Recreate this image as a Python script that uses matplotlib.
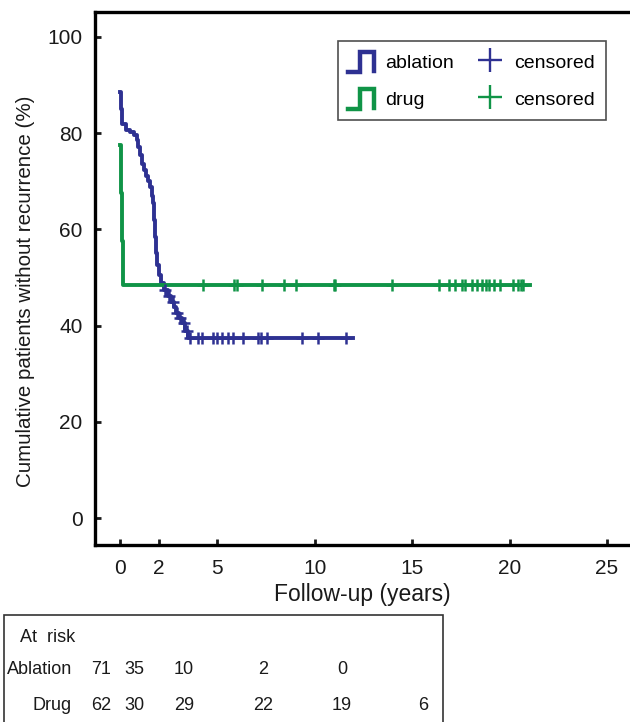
import numpy as np
import matplotlib
matplotlib.use("Agg")
import matplotlib.pyplot as plt
from matplotlib.lines import Line2D
from matplotlib.legend_handler import HandlerBase
from matplotlib.patches import Rectangle

plt.rcParams['font.family'] = ['Liberation Sans', 'DejaVu Sans']

# Kaplan-Meier step data (years, % without recurrence)
ablation_t = [0, 0.05, 0.1, 0.3, 0.5, 0.7, 0.85, 0.95, 1.05, 1.15, 1.25, 1.35, 1.45,
              1.55, 1.65, 1.72, 1.76, 1.8, 1.85, 1.9, 2.0, 2.1, 2.25, 2.45, 2.6, 2.75,
              2.9, 3.05, 3.2, 3.35, 3.5, 11.98]
ablation_s = [88.6, 85, 82, 80.7, 80.3, 79.6, 78.5, 77.2, 75.5, 73.7, 72.3, 71, 70,
              68.9, 67, 65.4, 62, 58.5, 55, 52.5, 50.5, 48.8, 47.5, 46.2, 45, 43.8,
              42.6, 41.5, 40.5, 38.8, 37.4, 37.4]
ablation_cens = [2.3, 2.5, 2.7, 2.95, 3.1, 3.3, 3.42, 3.59, 4.02, 4.19, 4.79, 4.96, 5.22,
                 5.56, 5.82, 6.3, 7.1, 7.24, 7.56, 9.33, 10.18, 11.59]

drug_t = [0, 0.03, 0.06, 0.09, 0.12, 0.15, 0.17, 21.05]
drug_s = [77.5, 72.5, 67.5, 62.5, 57.5, 52.5, 48.4, 48.4]
drug_cens = [4.28, 5.85, 5.99, 7.27, 8.44, 9.02, 10.99, 11.04, 13.95, 16.39, 16.9, 17.2,
             17.54, 17.71, 18.05, 18.34, 18.56, 18.79, 18.96, 19.21, 19.51, 20.19,
             20.45, 20.57, 20.70]

# numbers at risk
risk_labels = ["Ablation", "Drug"]
ablation_risk = [71, 35, 10, 2, 0]
drug_risk = [62, 30, 29, 22, 19, 6]

blue = "#2e3192"
green = "#109447"


def step_value(t, s, x):
    idx = np.searchsorted(t, x, side="right") - 1
    return np.array(s)[idx]


class StepHandler(HandlerBase):
    def create_artists(self, legend, orig_handle, xdescent, ydescent, width, height, fontsize, trans):
        xs = np.array([0, 0.45, 0.45, 1.0, 1.0]) * width - xdescent
        ys = np.array([0.0, 0.0, 1.0, 1.0, 0.05]) * height - ydescent
        ln = Line2D(xs, ys, color=orig_handle.get_color(), lw=orig_handle.get_linewidth(),
                    solid_joinstyle="miter", transform=trans)
        return [ln]


fig = plt.figure(figsize=(6.3, 7.22), dpi=100)
ax = fig.add_axes([0.1508, 0.2452, 0.8492, 0.7382])

ax.plot(ablation_t, ablation_s, drawstyle="steps-post", color=blue, lw=2.8)
ax.plot(drug_t, drug_s, drawstyle="steps-post", color=green, lw=2.8)
ax.plot(ablation_cens, step_value(ablation_t, ablation_s, ablation_cens), ls="none",
        marker="+", ms=9, mew=1.8, color=blue)
ax.plot(drug_cens, step_value(drug_t, drug_s, drug_cens), ls="none",
        marker="+", ms=9, mew=1.8, color=green)

ax.set_xlim(-1.28, 26.18)
ax.set_ylim(-5.6, 105.2)
ax.set_xticks([0, 2, 5, 10, 15, 20, 25])
ax.set_yticks([0, 20, 40, 60, 80, 100])
ax.tick_params(direction="in", length=4, width=2, labelsize=15, colors="#1a1a1a")
ax.tick_params(axis="x", pad=10)
ax.tick_params(axis="y", pad=9)
for sp in ["left", "bottom", "top"]:
    ax.spines[sp].set_linewidth(2.4)
ax.spines["right"].set_visible(False)

ax.set_xlabel("Follow-up (years)", fontsize=16.5, labelpad=4, color="#1a1a1a")
ax.set_ylabel("Cumulative patients without recurrence (%)", fontsize=14.8,
              color="#1a1a1a")
ax.yaxis.set_label_coords(-0.113, 0.4765)

h_abl = Line2D([], [], color=blue, lw=3.2)
h_drug = Line2D([], [], color=green, lw=3.2)
h_cb = Line2D([], [], ls="none", marker="+", ms=17, mew=1.7, color=blue)
h_cg = Line2D([], [], ls="none", marker="+", ms=17, mew=1.7, color=green)
leg = ax.legend([h_abl, h_drug, h_cb, h_cg], ["ablation", "drug", "censored", "censored"],
                ncol=2, loc="upper right", bbox_to_anchor=(0.973, 0.964),
                handler_map={h_abl: StepHandler(), h_drug: StepHandler()},
                fontsize=14, frameon=True, fancybox=False, edgecolor="#222222",
                handlelength=1.3, handleheight=1.2, labelspacing=0.85,
                columnspacing=1.2, handletextpad=0.6, borderpad=0.55)
leg.get_frame().set_linewidth(1.2)

# at-risk table
W, H = 630, 722
fig.patches.append(Rectangle((4 / W, -0.05), (443 - 4) / W, (1 - 615 / H) + 0.05,
                             transform=fig.transFigure, fill=False, lw=1.2,
                             edgecolor="#333333"))
col_x = [101, 134, 184, 263, 342, 423]
fig.text(20 / W, 1 - 638 / H, "At  risk", fontsize=13, va="center", ha="left",
         color="#1a1a1a")
for row_y, name, counts in zip([670, 705], risk_labels, [ablation_risk, drug_risk]):
    fig.text(72 / W, 1 - row_y / H, name, fontsize=13, va="center", ha="right",
             color="#1a1a1a")
    for cx, n in zip(col_x, counts):
        fig.text(cx / W, 1 - row_y / H, str(n), fontsize=13, va="center", ha="center",
                 color="#1a1a1a")

fig.savefig("out.png", dpi=100)
